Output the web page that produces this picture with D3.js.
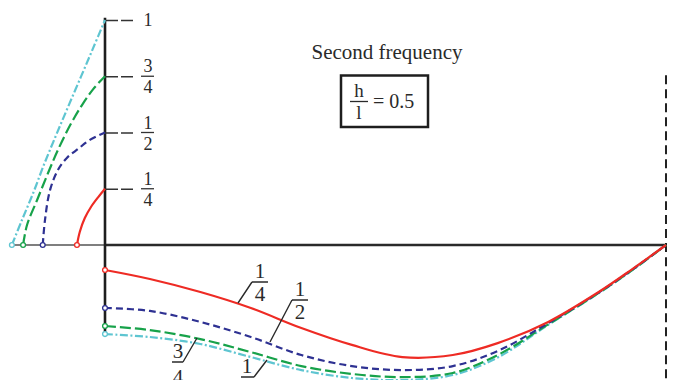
<!DOCTYPE html>
<html>
<head>
<meta charset="utf-8">
<script src="https://cdn.jsdelivr.net/npm/d3@7"></script>
<style>
  body { margin: 0; background: #fff; }
  svg { display: block; }
  text { font-family: "Liberation Serif", "Times New Roman", Times, "DejaVu Serif", serif; fill: #2a2a2a; }
</style>
</head>
<body>
<svg id="chart" width="674" height="380"></svg>
<script>
// column heights h (tick values on the vertical axis)
var heights = [0.25, 0.5, 0.75, 1];
var tickLabels = [["1", "4"], ["1", "2"], ["3", "4"], ["1"]];

// column mode shapes, [horizontal displacement, height]
var colQuarter = [[-0.050, 0], [-0.045, 0.058], [-0.036, 0.120], [-0.025, 0.169], [-0.012, 0.213], [0, 0.25]];
var colHalf = [[-0.111, 0], [-0.107, 0.111], [-0.098, 0.244], [-0.084, 0.333], [-0.068, 0.387], [-0.048, 0.427], [-0.027, 0.467], [0, 0.5]];
var colThreeQ = [[-0.146, 0], [-0.139, 0.089], [-0.121, 0.2], [-0.103, 0.311], [-0.084, 0.422], [-0.062, 0.533], [-0.041, 0.622], [-0.021, 0.693], [0, 0.75]];
var colOne = [[-0.166, 0], [-0.148, 0.111], [-0.128, 0.231], [-0.109, 0.356], [-0.087, 0.489], [-0.066, 0.613], [-0.043, 0.747], [-0.021, 0.876], [0, 1]];

// beam mode shapes (second frequency), x along beam
var beamX = [0, 0.08, 0.17, 0.26, 0.35, 0.44, 0.53, 0.62, 0.70, 0.79, 0.88, 0.94, 1];
var beamQuarter = [-0.111, -0.151, -0.209, -0.280, -0.369, -0.444, -0.498, -0.489, -0.436, -0.342, -0.209, -0.107, 0];
var beamHalf = [-0.280, -0.293, -0.342, -0.409, -0.489, -0.538, -0.556, -0.538, -0.471, -0.347, -0.211, -0.109, 0];
var beamThreeQ = [-0.360, -0.378, -0.418, -0.476, -0.538, -0.573, -0.587, -0.569, -0.489, -0.353, -0.213, -0.111, 0];
var beamOne = [-0.396, -0.409, -0.440, -0.498, -0.556, -0.591, -0.600, -0.578, -0.500, -0.355, -0.214, -0.112, 0];

var ratioText = "0.5";

var svg = d3.select('#chart');
var x = d3.scaleLinear().domain([0, 1]).range([105, 666]);
var y = d3.scaleLinear().domain([0, 1]).range([245, 20]);

var styles = [
  { color: '#ee2b24', dash: null },            // h = 1/4
  { color: '#2e3192', dash: '7,4' },            // h = 1/2
  { color: '#17a24a', dash: '11,4' },           // h = 3/4
  { color: '#5ec5d1', dash: '8,2.5,2,2.5' }     // h = 1
];

var line = d3.line()
  .x(function(d) { return x(d[0]); })
  .y(function(d) { return y(d[1]); })
  .curve(d3.curveCatmullRom);

var cols = [colQuarter, colHalf, colThreeQ, colOne];
var beams = [beamQuarter, beamHalf, beamThreeQ, beamOne].map(function(s) {
  return s.map(function(v, i) { return [beamX[i], v]; });
});

// axes
svg.append('line')
  .attr('x1', x(-0.17)).attr('x2', x(0))
  .attr('y1', y(0)).attr('y2', y(0))
  .attr('stroke', '#555').attr('stroke-width', 1.3);
svg.append('line')
  .attr('x1', x(0)).attr('x2', x(1))
  .attr('y1', y(0)).attr('y2', y(0))
  .attr('stroke', '#2a2a2a').attr('stroke-width', 2.4);
svg.append('line')
  .attr('x1', x(0)).attr('x2', x(0))
  .attr('y1', y(1.01)).attr('y2', y(-0.4))
  .attr('stroke', '#1e1e1e').attr('stroke-width', 2.6);
svg.append('line')
  .attr('x1', x(1)).attr('x2', x(1))
  .attr('y1', y(0.755)).attr('y2', 380)
  .attr('stroke', '#222').attr('stroke-width', 2)
  .attr('stroke-dasharray', '9,5');

var axis = d3.axisRight(y).tickValues(heights).tickSize(28).tickFormat('');
var gAxis = svg.append('g').attr('transform', 'translate(' + x(0) + ',0)').call(axis);
gAxis.select('.domain').remove();
gAxis.selectAll('.tick line')
  .attr('stroke', '#333').attr('stroke-width', 1.7)
  .attr('stroke-dasharray', '13,3');

// tick labels as fractions
heights.forEach(function(h, i) {
  var lab = tickLabels[i], ty = y(h), tx = 148;
  if (lab.length === 1) {
    svg.append('text').attr('x', tx).attr('y', ty + 6)
      .attr('text-anchor', 'middle').attr('font-size', 18).text(lab[0]);
  } else {
    svg.append('text').attr('x', tx).attr('y', ty - 4)
      .attr('text-anchor', 'middle').attr('font-size', 18).text(lab[0]);
    svg.append('line').attr('x1', tx - 7).attr('x2', tx + 6)
      .attr('y1', ty).attr('y2', ty).attr('stroke', '#333').attr('stroke-width', 1.3);
    svg.append('text').attr('x', tx).attr('y', ty + 17)
      .attr('text-anchor', 'middle').attr('font-size', 18).text(lab[1]);
  }
});

// curves, drawn from h=1 down so that the solid red sits on top
[3, 2, 1, 0].forEach(function(i) {
  var st = styles[i];
  [cols[i], beams[i]].forEach(function(pts) {
    svg.append('path')
      .attr('d', line(pts))
      .attr('fill', 'none')
      .attr('stroke', st.color)
      .attr('stroke-width', 2.2)
      .attr('stroke-dasharray', st.dash);
    svg.append('circle')
      .attr('cx', x(pts[0][0])).attr('cy', y(pts[0][1]))
      .attr('r', 2.4)
      .attr('fill', '#fff')
      .attr('stroke', st.color).attr('stroke-width', 1.3);
  });
});

// curve labels with leader lines
var curveLabels = [
  { num: '1', den: '4', lead: [[238, 303], [252, 282]], bar: [252, 268, 282], tx: 260 },
  { num: '1', den: '2', lead: [[270, 342], [292, 300]], bar: [292, 308, 300], tx: 300 },
  { num: '3', den: '4', lead: [[183, 362], [197, 338]], bar: [172, 183, 362], tx: 178, gap: 22 },
  { num: '1', den: null, lead: [[254, 377], [267, 360]], bar: [241, 254, 377], tx: 247 }
];
curveLabels.forEach(function(c) {
  svg.append('path')
    .attr('d', 'M' + c.lead[0][0] + ',' + c.lead[0][1] + 'L' + c.lead[1][0] + ',' + c.lead[1][1] +
      'M' + c.bar[0] + ',' + c.bar[2] + 'L' + c.bar[1] + ',' + c.bar[2])
    .attr('fill', 'none').attr('stroke', '#2a2a2a').attr('stroke-width', 1.4);
  svg.append('text').attr('x', c.tx).attr('y', c.bar[2] - 4)
    .attr('text-anchor', 'middle').attr('font-size', 21).text(c.num);
  if (c.den) {
    svg.append('text').attr('x', c.tx).attr('y', c.bar[2] + (c.gap || 19))
      .attr('text-anchor', 'middle').attr('font-size', 21).text(c.den);
  }
});

// title and parameter box
svg.append('text').attr('x', 387).attr('y', 59)
  .attr('text-anchor', 'middle').attr('font-size', 21).text('Second frequency');
svg.append('rect').attr('x', 341).attr('y', 75.5).attr('width', 87).attr('height', 51.5)
  .attr('fill', 'none').attr('stroke', '#1e1e1e').attr('stroke-width', 2.5);
svg.append('text').attr('x', 359).attr('y', 97).attr('text-anchor', 'middle')
  .attr('font-size', 19).text('h');
svg.append('line').attr('x1', 350).attr('x2', 368).attr('y1', 101.5).attr('y2', 101.5)
  .attr('stroke', '#2a2a2a').attr('stroke-width', 1.3);
svg.append('text').attr('x', 359).attr('y', 119).attr('text-anchor', 'middle')
  .attr('font-size', 19).text('l');
svg.append('text').attr('x', 373).attr('y', 108)
  .attr('font-size', 20).text('= ' + ratioText);
</script>
</body>
</html>
